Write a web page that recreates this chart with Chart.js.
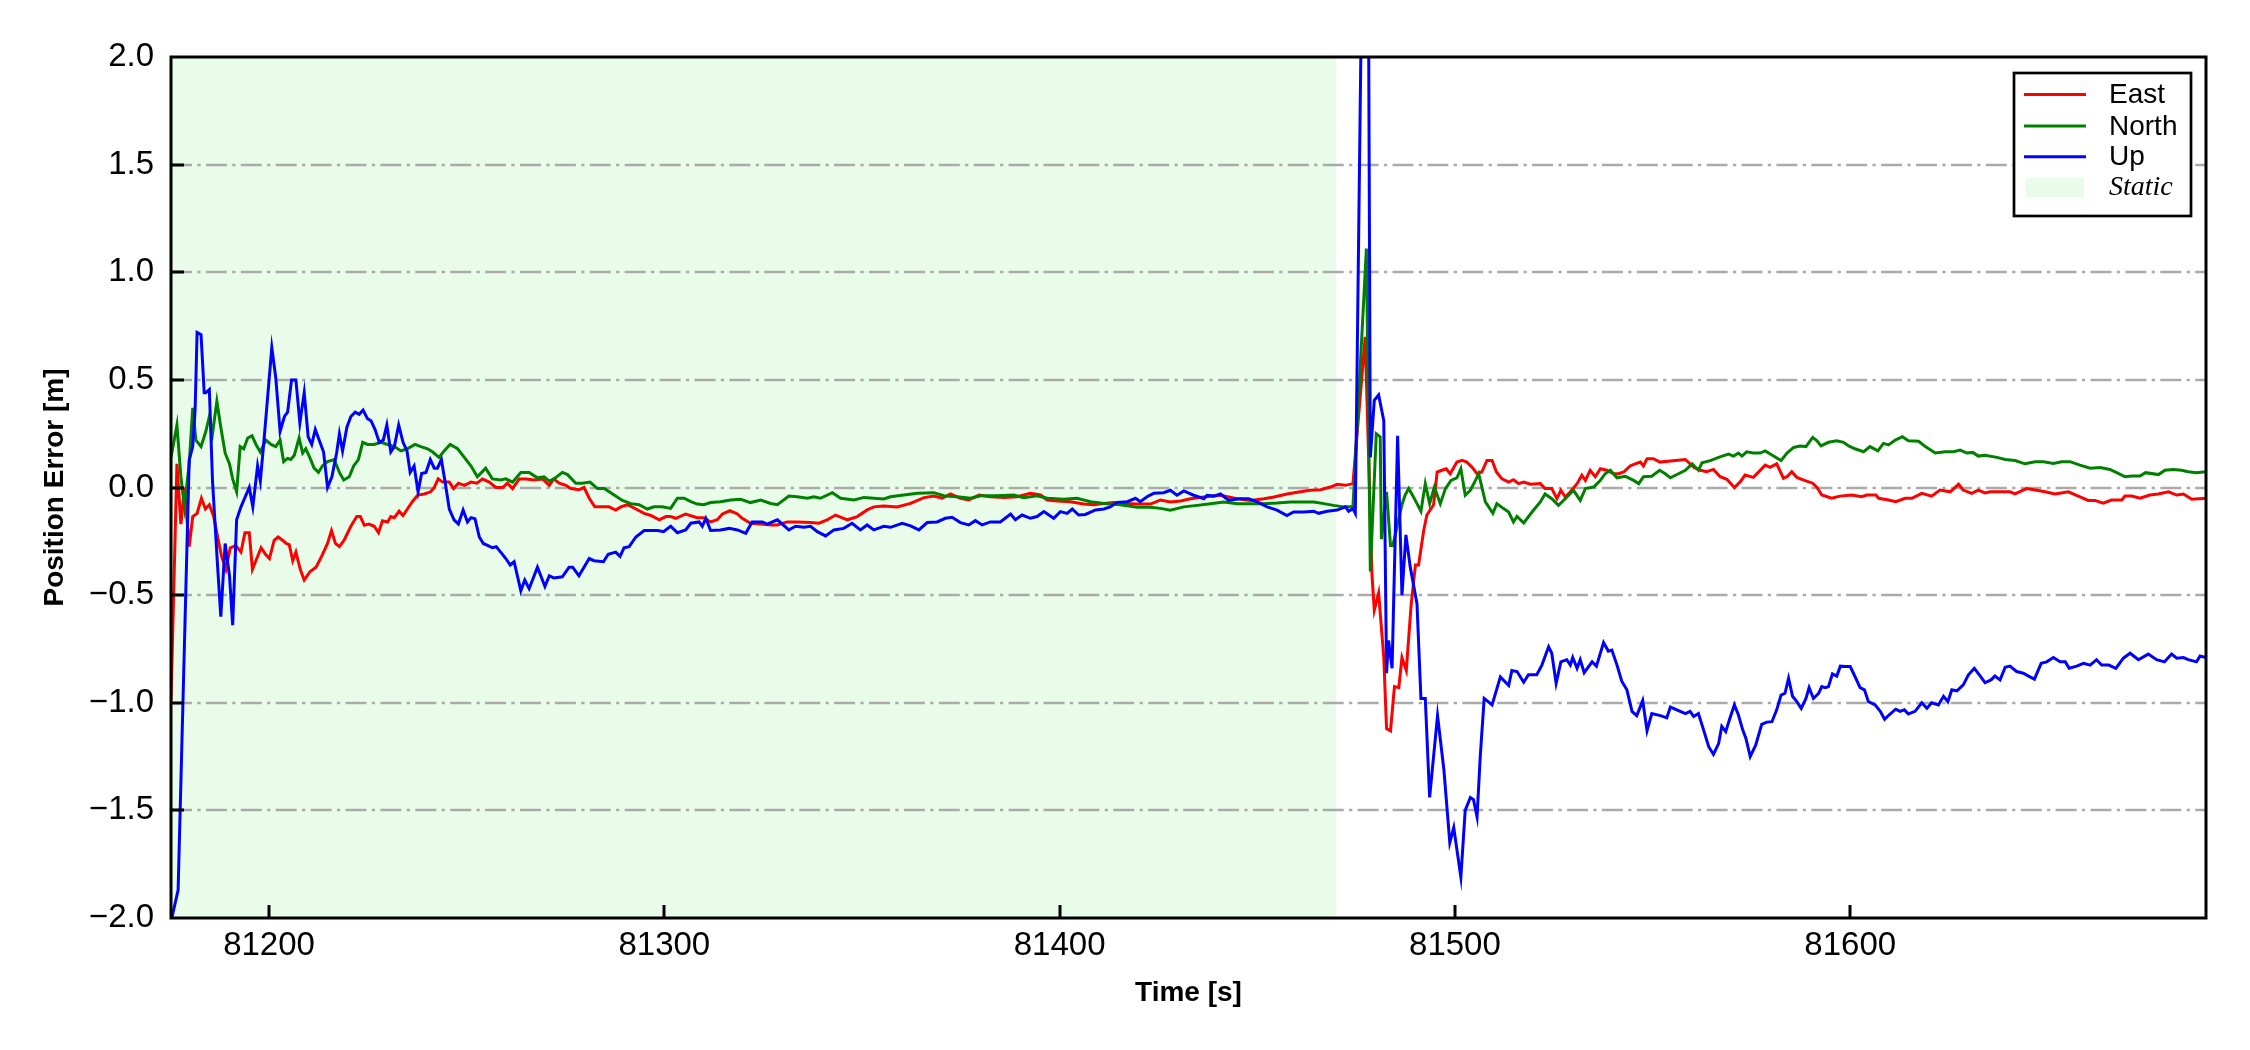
<!DOCTYPE html>
<html lang="en">
<head>
    <meta charset="UTF-8">
    <title>Position Error</title>
    <script src="https://cdn.jsdelivr.net/npm/chart.js"></script>
    <style>
        body {
            margin: 0;
            padding: 0;
            background: #fff;
        }

        canvas {
            display: block;
        }
    </style>
</head>
<body>
    <canvas id="errores" width="2250" height="1050"></canvas>

    <script>
        // axis limits and static interval
        const xRange = [81175.2, 81690];
        const yRange = [-2, 2];
        const staticSpan = [81175.2, 81470];

        const seriesNames = ['East', 'North', 'Up'];
        const seriesColors = ['#ff0000', '#008000', '#0000ff'];
        const staticLabel = 'Static';

        const eastTime = [
            81175.2, 81176.7, 81177.7, 81178.6, 81179.8, 81180.7, 81181.8, 81182.9, 81183.9, 81184.9,
            81186.0, 81187.0, 81188.0, 81189.1, 81190.2, 81191.6, 81192.9, 81193.9, 81195.0, 81195.8,
            81196.9, 81198.0, 81199.1, 81200.1, 81201.3, 81202.3, 81203.4, 81204.3, 81205.1, 81206.0,
            81206.8, 81207.9, 81208.9, 81210.4, 81211.9, 81213.3, 81214.8, 81215.8, 81216.8, 81217.8,
            81219.0, 81220.7, 81222.2, 81223.1, 81224.1, 81225.3, 81226.6, 81227.7, 81228.7, 81230.0,
            81230.8, 81231.7, 81232.9, 81233.9, 81235.0, 81236.3, 81237.6, 81239.3, 81240.9, 81241.8,
            81242.8, 81243.9, 81245.6, 81246.7, 81247.9, 81249.4, 81251.1, 81252.6, 81254.0, 81255.7,
            81257.4, 81259.1, 81260.3, 81261.6, 81263.3, 81265.0, 81267.1, 81269.2, 81270.9, 81272.0,
            81273.4, 81275.1, 81276.3, 81278.4, 81279.7, 81281.0, 81282.4, 81283.9, 81286.0, 81287.7,
            81289.0, 81290.7, 81292.8, 81294.9, 81296.6, 81298.7, 81300.4,
            81301.6, 81302.9, 81305.4, 81308.3, 81310.0, 81311.7, 81313.4, 81314.7, 81316.6, 81318.5,
            81319.7, 81321.8, 81324.4, 81326.9, 81328.6, 81331.1, 81333.6, 81337.0, 81339.1, 81341.2,
            81343.3, 81346.3, 81348.8, 81351.3, 81353.0, 81355.5, 81358.9, 81362.3, 81365.7, 81368.2,
            81370.3, 81372.4, 81374.9, 81377.0, 81379.6, 81382.5, 81385.9, 81389.3, 81392.6, 81395.2,
            81396.8, 81399.4, 81402.7, 81406.1, 81408.6, 81411.2, 81413.7, 81416.2, 81419.6, 81423.0,
            81425.5,
            81428.0, 81430.6, 81433.1, 81436.5, 81440.7, 81444.9, 81448.3, 81451.7, 81454.2, 81457.5,
            81460.9, 81463.4, 81466.0, 81468.5, 81470.2, 81472.3, 81474.2, 81477.3, 81479.0, 81479.6,
            81480.7, 81482.0, 81482.7, 81483.7, 81484.7, 81485.8, 81486.6, 81487.7, 81488.9, 81490.0,
            81490.8, 81492.1, 81492.9, 81494.6, 81495.5, 81496.7, 81497.8, 81498.8, 81500.5, 81501.8,
            81503.0, 81504.3, 81505.6, 81506.8, 81508.1, 81509.4, 81510.5, 81511.9, 81513.6, 81514.8,
            81516.1, 81517.4, 81519.1, 81521.6, 81522.8, 81524.5, 81525.8, 81526.8, 81527.9, 81529.2,
            81530.9, 81532.1, 81533.0, 81534.2, 81535.5, 81536.8, 81538.4, 81540.1, 81541.4, 81542.7,
            81544.3, 81545.6, 81546.9, 81547.7, 81548.6, 81550.2, 81551.9, 81554.5,
            81558.3, 81560.4, 81562.1, 81563.7, 81565.4, 81567.1, 81568.8, 81570.7, 81572.2, 81573.4,
            81575.5, 81578.5, 81579.7, 81581.4, 81583.1, 81584.0, 81585.2, 81586.5, 81588.6, 81590.5,
            81591.6, 81592.8, 81595.3, 81597.4, 81600.4, 81602.9, 81604.2, 81606.5, 81607.2, 81609.7,
            81611.5, 81613.9, 81615.6, 81618.1, 81620.6, 81622.7, 81625.3, 81627.4, 81628.6, 81630.7,
            81632.4, 81634.1, 81635.4, 81637.9, 81640.4, 81641.7, 81644.6, 81646.8, 81649.3, 81651.8,
            81655.2, 81657.7, 81660.2, 81661.9, 81664.0, 81666.1, 81668.7, 81669.5, 81671.2, 81673.3,
            81675.8, 81677.9, 81680.5, 81682.6, 81684.3, 81686.4, 81690.0
        ];
        const eastErr = [
            -0.99, 0.11, -0.17, 0.0, -0.275, -0.135, -0.12, -0.05, -0.10, -0.08,
            -0.135, -0.23, -0.32, -0.38, -0.28, -0.27, -0.30, -0.21, -0.21, -0.38,
            -0.33, -0.28, -0.31, -0.33, -0.245, -0.23, -0.245, -0.26, -0.265, -0.34,
            -0.30, -0.38, -0.43, -0.39, -0.37, -0.32, -0.26, -0.20, -0.26, -0.275,
            -0.245, -0.18, -0.135, -0.135, -0.175, -0.17, -0.18, -0.21, -0.155, -0.16,
            -0.135, -0.14, -0.11, -0.13, -0.10, -0.065, -0.035, -0.03, -0.02, 0.0,
            0.04, 0.025, 0.025, -0.005, 0.02, 0.01, 0.025, 0.02, 0.04, 0.025,
            0.0, 0.0, 0.02, -0.005, 0.04, 0.04, 0.035, 0.04, 0.01, 0.04,
            0.02, 0.01, -0.005, -0.01, 0.0, -0.05, -0.09, -0.09, -0.09, -0.105,
            -0.09, -0.08, -0.10, -0.12, -0.13, -0.15, -0.135,
            -0.135, -0.143, -0.123, -0.14, -0.14, -0.16, -0.15, -0.123, -0.108, -0.123,
            -0.143, -0.166, -0.17, -0.174, -0.174, -0.16, -0.16, -0.163, -0.166, -0.15,
            -0.128, -0.15, -0.135, -0.104, -0.09, -0.086, -0.09, -0.074, -0.047, -0.04,
            -0.05, -0.03, -0.05, -0.058, -0.035, -0.043, -0.046, -0.043, -0.027, -0.035,
            -0.058, -0.063, -0.066, -0.077, -0.08, -0.074, -0.07, -0.074, -0.077, -0.077,
            -0.058,
            -0.067, -0.063, -0.052, -0.044, -0.036, -0.052, -0.06, -0.052, -0.044, -0.03,
            -0.02, -0.013, -0.01, 0.002, 0.015, 0.01, 0.018, 0.70, -0.40, -0.57,
            -0.49, -0.79, -1.12, -1.13, -0.925, -0.93, -0.79, -0.85, -0.55, -0.36,
            -0.36, -0.20, -0.128, -0.08, 0.072, 0.08, 0.087, 0.064, 0.118, 0.126,
            0.118, 0.095, 0.064, 0.072, 0.126, 0.126, 0.072, 0.04, 0.025, 0.036,
            0.018, 0.025, 0.015, 0.018, -0.005, -0.005, -0.052, -0.013, -0.044, -0.02,
            0.018, 0.057, 0.033, 0.08, 0.05, 0.087, 0.08, 0.064, 0.064, 0.072,
            0.10, 0.11, 0.118, 0.10, 0.134, 0.134, 0.118, 0.123,
            0.13, 0.094, 0.08, 0.073, 0.084, 0.05, 0.038, 0.0, 0.027, 0.058,
            0.047, 0.104, 0.094, 0.11, 0.043, 0.05, 0.073, 0.047, 0.032, 0.02,
            0.0, -0.035, -0.05, -0.04, -0.035, -0.043, -0.035, -0.035, -0.05, -0.058,
            -0.066, -0.05, -0.05, -0.027, -0.04, -0.012, -0.02, 0.015, -0.012, -0.027,
            -0.012, -0.025, -0.02, -0.02, -0.02, -0.03, -0.005, -0.012, -0.02, -0.03,
            -0.02, -0.04, -0.06, -0.06, -0.073, -0.058, -0.058, -0.04, -0.04, -0.05,
            -0.035, -0.03, -0.02, -0.035, -0.03, -0.055, -0.05
        ];

        const northTime = [
            81175.2, 81176.7, 81177.7, 81178.6, 81179.8, 81180.7, 81181.5, 81182.8, 81184.0, 81184.9,
            81185.7, 81186.8, 81187.8, 81188.9, 81190.0, 81190.8, 81191.8, 81192.7, 81193.6, 81194.6,
            81195.7, 81196.7, 81197.8, 81199.2, 81200.5, 81201.7, 81202.8, 81203.7, 81204.7, 81205.5,
            81206.4, 81207.6, 81208.5, 81209.3, 81210.4, 81211.4, 81212.5, 81213.5, 81214.8, 81216.5,
            81217.8, 81218.9, 81220.3, 81221.4, 81222.6, 81223.7, 81224.9, 81226.6, 81228.3, 81230.0,
            81231.7, 81233.4, 81235.0, 81236.9, 81238.4, 81240.1, 81241.4, 81243.0, 81244.3, 81245.8,
            81247.7, 81249.4, 81251.1, 81252.7, 81254.8, 81256.5, 81258.6, 81259.9, 81261.6, 81263.7,
            81265.8, 81267.9, 81269.6, 81270.9, 81272.1, 81274.2, 81275.5, 81277.6, 81279.3, 81281.2,
            81283.1, 81284.8, 81287.3, 81289.4, 81291.5, 81293.6, 81295.7, 81297.4, 81299.5,
            81301.6, 81303.3, 81305.0, 81306.7, 81308.3, 81310.0, 81311.7, 81314.2, 81316.8, 81319.3,
            81321.8, 81324.4, 81326.9, 81328.6, 81331.5, 81333.6, 81336.2, 81337.8, 81339.5, 81342.5,
            81344.6, 81348.0, 81350.5, 81353.0, 81355.5, 81357.2, 81360.6, 81364.0, 81368.2, 81370.7,
            81374.1, 81377.5, 81380.0, 81384.2, 81388.4, 81390.9, 81394.3, 81396.9, 81401.1, 81404.4,
            81407.8, 81411.2, 81415.4, 81419.6, 81423.0, 81425.5,
            81428.0, 81431.4, 81434.8, 81438.2, 81441.5, 81444.9, 81448.3, 81451.6, 81455.0, 81458.4,
            81461.8, 81464.3, 81466.8, 81469.3, 81471.9, 81474.2, 81477.6, 81478.6, 81480.1, 81481.1,
            81481.4, 81482.7, 81483.7, 81484.3, 81486.6, 81487.4, 81488.3, 81489.1, 81490.4, 81491.4,
            81492.5, 81493.6, 81494.8, 81496.3, 81497.6, 81499.0, 81500.5, 81501.5, 81502.6, 81503.9,
            81505.2, 81506.0, 81507.7, 81509.6, 81510.6, 81512.3, 81513.6, 81514.8, 81515.7, 81517.4,
            81519.5, 81521.6, 81522.8, 81524.5, 81526.2, 81527.9, 81530.0, 81531.7, 81533.0, 81535.1,
            81536.8, 81538.0, 81539.3, 81541.0, 81543.1, 81545.2, 81546.5, 81547.7, 81549.8, 81551.8,
            81553.2, 81554.5,
            81558.3, 81560.0, 81561.6, 81562.5, 81564.6, 81566.7, 81569.2, 81570.5, 81571.7, 81572.6,
            81573.8, 81575.5, 81577.2, 81578.5, 81580.6, 81582.5, 81584.0, 81585.7, 81587.3, 81588.8,
            81590.5, 81591.6, 81592.6, 81594.5, 81596.6, 81598.3, 81599.6, 81601.2, 81603.4, 81605.0,
            81607.0, 81608.4, 81609.7, 81611.4, 81613.2, 81614.7, 81617.3, 81619.0, 81621.5, 81624.0,
            81626.1, 81627.8, 81629.5, 81631.0, 81632.4, 81634.1, 81637.1, 81639.2, 81641.7, 81644.2,
            81646.8, 81648.9, 81651.4, 81653.5, 81655.6, 81658.1, 81660.7, 81663.2, 81665.7, 81667.8,
            81669.5, 81671.2, 81673.3, 81674.7, 81678.0, 81679.6, 81681.7, 81683.8, 81685.5, 81687.6,
            81690.0
        ];
        const northErr = [
            0.14, 0.29, 0.05, -0.09, 0.11, 0.37, 0.22, 0.19, 0.26, 0.33,
            0.25, 0.40, 0.28, 0.16, 0.11, 0.04, -0.02, 0.19, 0.18, 0.23,
            0.24, 0.20, 0.165, 0.22, 0.20, 0.19, 0.22, 0.12, 0.135, 0.13,
            0.15, 0.23, 0.16, 0.18, 0.135, 0.09, 0.07, 0.10, 0.12, 0.13,
            0.07, 0.035, 0.05, 0.10, 0.13, 0.21, 0.20, 0.20, 0.21, 0.20,
            0.19, 0.17, 0.18, 0.20, 0.19, 0.18, 0.165, 0.14, 0.17, 0.20,
            0.18, 0.14, 0.10, 0.05, 0.09, 0.04, 0.035, 0.04, 0.025, 0.07,
            0.07, 0.045, 0.05, 0.03, 0.04, 0.07, 0.06, 0.02, 0.02, 0.025,
            -0.005, -0.005, -0.035, -0.06, -0.075, -0.08, -0.10, -0.09, -0.09,
            -0.097, -0.05, -0.05, -0.066, -0.077, -0.08, -0.07, -0.066, -0.058, -0.055,
            -0.07, -0.058, -0.074, -0.08, -0.04, -0.043, -0.05, -0.043, -0.05, -0.024,
            -0.05, -0.058, -0.046, -0.05, -0.053, -0.043, -0.035, -0.027, -0.024, -0.038,
            -0.043, -0.05, -0.038, -0.038, -0.035, -0.047, -0.038, -0.05, -0.055, -0.05,
            -0.066, -0.074, -0.08, -0.092, -0.092, -0.097,
            -0.106, -0.09, -0.083, -0.075, -0.067, -0.075, -0.075, -0.075, -0.072, -0.067,
            -0.067, -0.067, -0.075, -0.083, -0.09, -0.09, 1.11, -0.39, 0.25, 0.235,
            -0.24, -0.02, -0.27, -0.27, -0.08, -0.035, -0.005, -0.03, -0.075, -0.11,
            0.018, -0.075, 0.002, -0.075, -0.005, 0.033, 0.045, 0.087, -0.036, -0.013,
            0.033, 0.064, -0.067, -0.12, -0.075, -0.098, -0.114, -0.16, -0.134, -0.165,
            -0.114, -0.067, -0.03, -0.052, -0.083, -0.052, -0.013, -0.06, -0.005, 0.002,
            0.033, 0.064, 0.08, 0.045, 0.052, 0.033, 0.018, 0.05, 0.052, 0.08,
            0.064, 0.045,
            0.08, 0.11, 0.08, 0.115, 0.125, 0.14, 0.155, 0.146, 0.16, 0.146,
            0.166, 0.16, 0.16, 0.17, 0.146, 0.125, 0.16, 0.186, 0.193, 0.19,
            0.233, 0.217, 0.193, 0.21, 0.217, 0.21, 0.193, 0.18, 0.166, 0.19,
            0.17, 0.205, 0.198, 0.22, 0.236, 0.217, 0.215, 0.19, 0.16, 0.166,
            0.166, 0.174, 0.16, 0.163, 0.146, 0.15, 0.14, 0.13, 0.125, 0.11,
            0.12, 0.12, 0.112, 0.12, 0.12, 0.104, 0.09, 0.093, 0.084, 0.066,
            0.05, 0.053, 0.053, 0.069, 0.06, 0.08, 0.084, 0.08, 0.073, 0.069,
            0.073
        ];

        const upTime = [
            81175.4, 81177.0, 81179.8, 81180.7, 81181.3, 81181.8, 81182.8, 81183.6, 81184.0, 81184.9,
            81185.7, 81187.0, 81187.8, 81188.9, 81190.0, 81190.8, 81191.8, 81192.9, 81195.0, 81195.9,
            81197.1, 81197.8, 81198.8, 81200.7, 81201.7, 81202.8, 81203.9, 81204.7, 81205.7, 81206.8,
            81207.8, 81208.9, 81209.9, 81210.8, 81211.7, 81212.7, 81213.8, 81214.8, 81215.9, 81217.1,
            81217.8, 81218.6, 81219.7, 81220.7, 81221.8, 81222.8, 81223.8, 81224.9, 81225.8, 81226.8,
            81227.9, 81228.9, 81229.8, 81230.8, 81231.7, 81232.8, 81233.9, 81234.9, 81235.7, 81236.7,
            81237.7, 81238.6, 81239.7, 81240.8, 81241.8, 81242.6, 81243.6, 81244.5, 81245.6, 81246.8,
            81247.9, 81249.1, 81250.2, 81251.1, 81252.1, 81253.2, 81254.2, 81255.4, 81256.5, 81257.5,
            81258.6, 81259.9, 81261.0, 81262.0, 81263.7, 81264.7, 81265.8, 81267.9, 81269.8, 81270.9,
            81272.0, 81274.2, 81275.9, 81276.8, 81278.4, 81281.0, 81282.2, 81284.6, 81285.8, 81287.7,
            81288.8, 81289.8, 81291.1, 81292.8, 81294.9, 81298.3, 81299.8,
            81301.6, 81303.3, 81305.4, 81306.7, 81308.8, 81309.6, 81310.5, 81311.7, 81314.2, 81316.4,
            81318.5, 81320.6, 81322.2, 81324.8, 81326.0, 81328.6, 81331.5, 81333.2, 81335.3, 81337.0,
            81338.7, 81340.8, 81342.9, 81345.4, 81347.5, 81349.6, 81351.3, 81353.0, 81355.5, 81357.2,
            81360.2, 81362.3, 81364.4, 81366.5, 81369.0, 81371.1, 81372.8, 81374.9, 81377.0, 81378.7,
            81380.4, 81382.5, 81385.0, 81387.6, 81388.8, 81390.5, 81392.6, 81394.3, 81396.0, 81398.5,
            81400.2, 81401.9, 81403.2, 81404.8, 81406.5, 81409.1, 81411.2, 81412.8, 81414.5, 81417.1,
            81419.2, 81420.4, 81422.1, 81423.8, 81426.3,
            81428.0, 81429.7, 81431.4, 81433.9, 81436.5, 81437.3, 81439.0, 81440.7, 81442.8, 81445.3,
            81447.8, 81450.0, 81452.5, 81455.0, 81457.5, 81459.2, 81461.8, 81464.3, 81465.5, 81467.7,
            81470.2, 81472.3, 81473.1, 81474.2, 81474.8, 81477.7, 81478.6, 81479.6, 81480.7, 81482.0,
            81482.7, 81483.2, 81484.1, 81485.5, 81486.6, 81487.6, 81488.7, 81490.4, 81491.4, 81492.5,
            81493.6, 81495.6, 81497.2, 81498.7, 81499.7, 81501.5, 81502.6, 81503.9, 81504.7, 81505.6,
            81506.4, 81507.4, 81509.4, 81511.5, 81513.6, 81514.4, 81515.7, 81517.4, 81518.6, 81520.7,
            81522.0, 81523.7, 81524.5, 81525.6, 81526.8, 81528.3, 81529.2, 81529.8, 81530.9, 81531.7,
            81532.7, 81534.7, 81535.8, 81537.6, 81538.8, 81539.7, 81541.0, 81542.2, 81543.5, 81544.8,
            81546.0, 81547.5, 81548.6, 81549.8, 81552.0, 81553.6, 81554.5,
            81558.3, 81559.5, 81560.4, 81561.6, 81562.9, 81564.2, 81565.4, 81566.7, 81567.5, 81568.5,
            81569.6, 81570.7, 81571.7, 81572.8, 81573.6, 81574.7, 81576.1, 81577.6, 81578.9, 81580.2,
            81581.4, 81582.5, 81583.5, 81584.4, 81585.4, 81586.5, 81587.6, 81588.8, 81589.6, 81590.7,
            81592.0, 81592.8, 81593.7, 81594.5, 81595.5, 81596.6, 81597.5, 81598.7, 81600.0, 81601.2,
            81602.5, 81603.6, 81604.6, 81606.3, 81607.6, 81608.7, 81609.8, 81611.5, 81612.6, 81613.7,
            81614.7, 81616.4, 81618.1, 81619.4, 81620.6, 81622.3, 81623.6, 81624.7, 81625.7, 81627.0,
            81628.6, 81629.9, 81631.4, 81632.9, 81634.1, 81635.6, 81636.6, 81637.9, 81639.2, 81640.4,
            81642.1, 81643.8, 81645.1, 81646.6, 81648.3, 81649.7, 81651.4, 81653.1, 81654.4, 81655.4,
            81657.3, 81659.0, 81660.7, 81662.3, 81663.6, 81665.4, 81667.2, 81669.1, 81670.8, 81672.9,
            81675.4, 81677.5, 81679.5, 81681.3, 81682.6, 81684.3, 81685.5, 81687.6, 81688.5, 81690.0
        ];
        const upErr = [
            -2.0, -1.87, 0.127, 0.19, 0.36, 0.72, 0.71, 0.44, 0.44, 0.455,
            0.03, -0.37, -0.60, -0.26, -0.41, -0.64, -0.15, -0.09, 0.0, -0.09,
            0.10, 0.03, 0.235, 0.65, 0.51, 0.26, 0.33, 0.35, 0.50, 0.50,
            0.30, 0.44, 0.235, 0.20, 0.27, 0.22, 0.165, 0.0, 0.05, 0.16,
            0.25, 0.17, 0.28, 0.33, 0.35, 0.34, 0.36, 0.32, 0.31, 0.27,
            0.21, 0.22, 0.29, 0.165, 0.19, 0.29, 0.21, 0.17, 0.07, 0.10,
            -0.02, 0.065, 0.07, 0.13, 0.09, 0.09, 0.13, 0.03, -0.10, -0.15,
            -0.17, -0.105, -0.16, -0.14, -0.145, -0.23, -0.26, -0.27, -0.28, -0.275,
            -0.30, -0.33, -0.36, -0.345, -0.48, -0.43, -0.47, -0.37, -0.46, -0.41,
            -0.42, -0.415, -0.37, -0.37, -0.41, -0.33, -0.34, -0.345, -0.31, -0.30,
            -0.32, -0.28, -0.275, -0.23, -0.20, -0.20, -0.205,
            -0.18, -0.21, -0.197, -0.166, -0.16, -0.18, -0.143, -0.20, -0.197, -0.19,
            -0.197, -0.213, -0.16, -0.16, -0.17, -0.15, -0.197, -0.18, -0.185, -0.18,
            -0.205, -0.225, -0.197, -0.19, -0.166, -0.197, -0.174, -0.197, -0.18, -0.185,
            -0.166, -0.178, -0.197, -0.163, -0.16, -0.143, -0.138, -0.163, -0.174, -0.154,
            -0.174, -0.16, -0.16, -0.123, -0.15, -0.128, -0.143, -0.135, -0.112, -0.143,
            -0.112, -0.12, -0.10, -0.128, -0.125, -0.104, -0.10, -0.09, -0.069, -0.066,
            -0.05, -0.066, -0.043, -0.027, -0.024,
            -0.013, -0.036, -0.016, -0.036, -0.052, -0.036, -0.04, -0.03, -0.06, -0.052,
            -0.052, -0.067, -0.09, -0.105, -0.13, -0.114, -0.114, -0.11, -0.12, -0.11,
            -0.105, -0.09, -0.11, -0.098, -0.12, 4.3, 0.14, 0.405, 0.43, 0.31,
            -0.863, -0.71, -0.84, 0.24, -0.50, -0.22, -0.37, -0.54, -0.98, -0.98,
            -1.44, -1.06, -1.31, -1.65, -1.58, -1.81, -1.50, -1.44, -1.45, -1.53,
            -1.25, -0.98, -1.01, -0.88, -0.92, -0.85, -0.855, -0.905, -0.87, -0.87,
            -0.825, -0.74, -0.77, -0.91, -0.81, -0.80, -0.825, -0.79, -0.84, -0.80,
            -0.86, -0.81, -0.83, -0.72, -0.76, -0.755, -0.825, -0.90, -0.94, -1.04,
            -1.06, -0.99, -1.13, -1.05, -1.06, -1.07, -1.02,
            -1.05, -1.04, -1.064, -1.05, -1.126, -1.204, -1.24, -1.19, -1.11, -1.134,
            -1.07, -1.01, -1.056, -1.126, -1.165, -1.25, -1.196, -1.10, -1.09, -1.088,
            -1.033, -0.964, -0.956, -0.886, -0.97, -0.995, -1.026, -0.98, -0.93, -0.98,
            -0.956, -0.925, -0.93, -0.925, -0.866, -0.876, -0.83, -0.832, -0.832, -0.878,
            -0.93, -0.94, -0.995, -1.01, -1.04, -1.077, -1.057, -1.03, -1.04, -1.033,
            -1.052, -1.04, -1.0, -1.026, -1.0, -1.01, -0.97, -0.995, -0.94, -0.945,
            -0.917, -0.87, -0.84, -0.876, -0.907, -0.894, -0.876, -0.894, -0.835, -0.83,
            -0.855, -0.863, -0.876, -0.89, -0.817, -0.81, -0.79, -0.81, -0.81, -0.84,
            -0.83, -0.817, -0.825, -0.80, -0.825, -0.825, -0.84, -0.793, -0.77, -0.80,
            -0.774, -0.80, -0.81, -0.774, -0.793, -0.79, -0.80, -0.81, -0.783, -0.79
        ];

        const FONT = '"Liberation Sans", Arial, Helvetica, sans-serif';
        Chart.defaults.font.family = FONT;
        Chart.defaults.color = '#000';

        function puntos(tiempos, valores) {
            return tiempos.map((t, i) => ({ x: t, y: valores[i] }));
        }

        const marco = {
            id: 'marco',
            beforeDatasetsDraw(chart) {
                const { ctx, chartArea: a, scales: { x, y } } = chart;
                ctx.save();
                // zona estatica
                const x0 = x.getPixelForValue(staticSpan[0]);
                const x1 = x.getPixelForValue(staticSpan[1]);
                ctx.fillStyle = 'rgb(233, 252, 233)';
                ctx.fillRect(x0, a.top, x1 - x0, a.bottom - a.top);
                // rejilla punto-raya
                ctx.strokeStyle = '#aaaaaa';
                ctx.lineWidth = 2.6;
                ctx.setLineDash([21, 5.3, 3.3, 5.3]);
                y.ticks.forEach(t => {
                    if (t.value <= y.min || t.value >= y.max) return;
                    const py = Math.round(y.getPixelForValue(t.value));
                    ctx.beginPath();
                    ctx.moveTo(a.left, py);
                    ctx.lineTo(a.right, py);
                    ctx.stroke();
                });
                ctx.restore();
            },
            afterDatasetsDraw(chart) {
                const { ctx, chartArea: a, scales: { x, y } } = chart;
                ctx.save();
                ctx.strokeStyle = '#000';
                ctx.lineWidth = 3;
                // ticks hacia dentro
                y.ticks.forEach(t => {
                    if (t.value <= y.min || t.value >= y.max) return;
                    const py = Math.round(y.getPixelForValue(t.value));
                    ctx.beginPath();
                    ctx.moveTo(a.left, py);
                    ctx.lineTo(a.left + 13, py);
                    ctx.stroke();
                });
                x.ticks.forEach(t => {
                    const px = Math.round(x.getPixelForValue(t.value));
                    ctx.beginPath();
                    ctx.moveTo(px, a.bottom);
                    ctx.lineTo(px, a.bottom - 13);
                    ctx.stroke();
                });
                ctx.strokeRect(a.left, a.top, a.right - a.left, a.bottom - a.top);

                // leyenda
                const bx = a.right - 192, by = a.top + 16, bw = 177, bh = 143;
                ctx.fillStyle = '#fff';
                ctx.fillRect(bx, by, bw, bh);
                ctx.lineWidth = 2.7;
                ctx.strokeRect(bx, by, bw, bh);
                const filas = [21.5, 53, 83.7];
                ctx.textBaseline = 'middle';
                ctx.textAlign = 'left';
                ctx.font = '28px ' + FONT;
                seriesNames.forEach((nombre, i) => {
                    const ry = by + filas[i];
                    ctx.strokeStyle = seriesColors[i];
                    ctx.lineWidth = 3;
                    ctx.beginPath();
                    ctx.moveTo(bx + 10, ry);
                    ctx.lineTo(bx + 72, ry);
                    ctx.stroke();
                    ctx.fillStyle = '#000';
                    ctx.fillText(nombre, bx + 95, ry + 1);
                });
                ctx.fillStyle = 'rgb(233, 252, 233)';
                ctx.fillRect(bx + 12, by + 105, 58, 19);
                ctx.fillStyle = '#000';
                ctx.font = 'italic 28px "Liberation Serif", "Times New Roman", serif';
                ctx.fillText(staticLabel, bx + 95, by + 115);
                ctx.restore();
            }
        };

        const ctx = document.getElementById('errores').getContext('2d');
        new Chart(ctx, {
            type: 'line',
            data: {
                datasets: [
                    { label: seriesNames[0], data: puntos(eastTime, eastErr), borderColor: seriesColors[0], order: 3 },
                    { label: seriesNames[1], data: puntos(northTime, northErr), borderColor: seriesColors[1], order: 2 },
                    { label: seriesNames[2], data: puntos(upTime, upErr), borderColor: seriesColors[2], order: 1 }
                ]
            },
            options: {
                responsive: false,
                animation: false,
                devicePixelRatio: 1,
                layout: { padding: { top: 57, right: 44, left: 0, bottom: 0 } },
                elements: {
                    line: { borderWidth: 3, tension: 0, fill: false },
                    point: { radius: 0 }
                },
                datasets: { line: { clip: 0 } },
                plugins: {
                    legend: { display: false },
                    tooltip: { enabled: false }
                },
                scales: {
                    x: {
                        type: 'linear',
                        min: xRange[0],
                        max: xRange[1],
                        grid: { display: false, drawTicks: false },
                        border: { display: false },
                        ticks: {
                            stepSize: 100,
                            includeBounds: false,
                            autoSkip: false,
                            maxRotation: 0,
                            padding: 8,
                            font: { size: 33 },
                            callback: v => String(v)
                        },
                        title: {
                            display: true,
                            text: 'Time [s]',
                            font: { size: 28, weight: 'bold' },
                            padding: { top: 0, bottom: 40 }
                        },
                        afterFit: s => { s.height = 132; }
                    },
                    y: {
                        min: yRange[0],
                        max: yRange[1],
                        grid: { display: false, drawTicks: false },
                        border: { display: false },
                        ticks: {
                            stepSize: 0.5,
                            padding: 17,
                            font: { size: 33 },
                            callback: v => v.toFixed(1).replace('-', '\u2212')
                        },
                        title: {
                            display: true,
                            text: 'Position Error [m]',
                            font: { size: 28, weight: 'bold' },
                            padding: { top: 38, bottom: 0 }
                        },
                        afterFit: s => { s.width = 171; }
                    }
                }
            },
            plugins: [marco]
        });
    </script>
</body>
</html>
